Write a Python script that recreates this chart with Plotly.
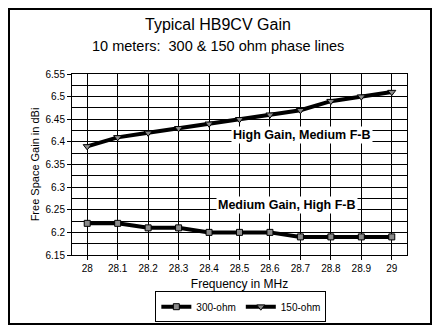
import plotly.graph_objects as go

# Frequency points (MHz) and gain values (dBi)
freq_mhz = [28.0, 28.1, 28.2, 28.3, 28.4, 28.5, 28.6, 28.7, 28.8, 28.9, 29.0]
freq_labels = ["28", "28.1", "28.2", "28.3", "28.4", "28.5", "28.6", "28.7", "28.8", "28.9", "29"]
gain_300_ohm = [6.22, 6.22, 6.21, 6.21, 6.20, 6.20, 6.20, 6.19, 6.19, 6.19, 6.19]
gain_150_ohm = [6.39, 6.41, 6.42, 6.43, 6.44, 6.45, 6.46, 6.47, 6.49, 6.50, 6.51]
y_ticks = [6.15, 6.2, 6.25, 6.3, 6.35, 6.4, 6.45, 6.5, 6.55]

base_font = "Liberation Sans, Arial, sans-serif"

fig = go.Figure()
fig.add_trace(go.Scatter(
    x=freq_mhz, y=gain_300_ohm, name="300-ohm", mode="lines+markers",
    line=dict(color="black", width=4),
    marker=dict(symbol="square", size=6, color="#8a8a8a", line=dict(color="black", width=1)),
))
fig.add_trace(go.Scatter(
    x=freq_mhz, y=gain_150_ohm, name="150-ohm", mode="lines+markers",
    line=dict(color="black", width=4),
    marker=dict(symbol="triangle-down", size=7, color="#8a8a8a", line=dict(color="black", width=1)),
))

fig.update_layout(
    width=439, height=334,
    margin=dict(l=72, r=32, t=74, b=79),
    paper_bgcolor="white", plot_bgcolor="white",
    font=dict(family=base_font, color="black", size=11),
    showlegend=True,
    legend=dict(
        orientation="h", x=0.504, y=-0.2, xanchor="center", yanchor="top",
        bordercolor="black", borderwidth=1, font=dict(size=10),
        itemwidth=30, tracegroupgap=0,
    ),
)

fig.update_xaxes(
    range=[27.95, 29.05], tickvals=freq_mhz, ticktext=freq_labels,
    showgrid=True, gridcolor="black", gridwidth=1,
    showline=True, linecolor="black", linewidth=1, mirror=True,
    ticks="outside", ticklen=4, tickcolor="black",
    tickfont=dict(size=10),
    title=dict(text="Frequency in MHz", font=dict(size=12), standoff=6),
    zeroline=False,
)
fig.update_yaxes(
    range=[6.15, 6.55], tickvals=y_ticks, ticktext=[f"{v:g}" for v in y_ticks],
    showgrid=True, gridcolor="black", gridwidth=1,
    minor=dict(dtick=0.025, tick0=6.15, showgrid=True, gridcolor="black", gridwidth=1),
    showline=True, linecolor="black", linewidth=1, mirror=True,
    ticks="outside", ticklen=4, tickcolor="black",
    tickfont=dict(size=10),
    title=dict(text="Free Space Gain in dBi", font=dict(size=11), standoff=3),
    zeroline=False,
)

# Chart titles
fig.add_annotation(text="Typical HB9CV Gain", xref="paper", yref="paper",
                   x=(218 - 72) / 335, y=(255 - 25) / 181, showarrow=False,
                   font=dict(size=16), xanchor="center", yanchor="middle")
fig.add_annotation(text="10 meters:  300 &amp; 150 ohm phase lines", xref="paper", yref="paper",
                   x=(218 - 72) / 335, y=(255 - 46) / 181, showarrow=False,
                   font=dict(size=14.5), xanchor="center", yanchor="middle")

# Curve labels
fig.add_annotation(text="<b>High Gain, Medium F-B</b>", x=28.705, y=6.415, showarrow=False,
                   font=dict(size=12.5, color="black"),
                   bgcolor="white", borderpad=1)
fig.add_annotation(text="<b>Medium Gain, High F-B</b>", x=28.656, y=6.26, showarrow=False,
                   font=dict(size=12.5, color="black"),
                   bgcolor="white", borderpad=1)

# Outer frame
fig.add_shape(type="rect", xref="paper", yref="paper",
              x0=(9 - 72) / 335, x1=(431 - 72) / 335,
              y0=(255 - 324) / 181, y1=(255 - 9) / 181,
              line=dict(color="black", width=2), layer="below")

fig.write_html("out.html")
